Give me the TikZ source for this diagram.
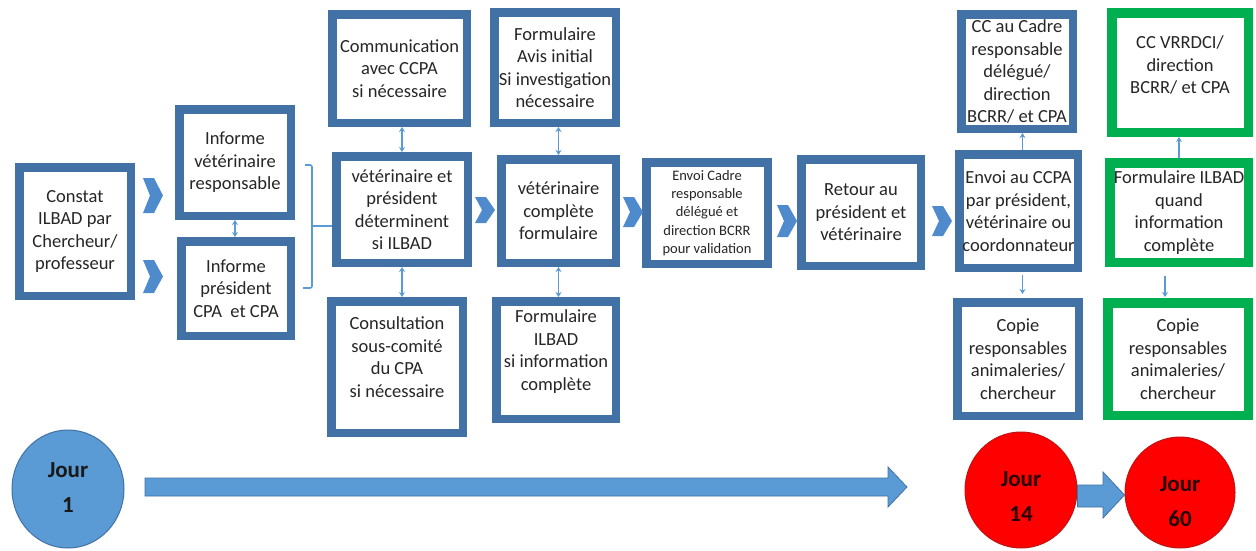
\documentclass[tikz,border=0pt]{standalone}
\usepackage{fontspec}
\setmainfont{Carlito}
\usetikzlibrary{arrows.meta,shapes.geometric}
\definecolor{boxblue}{RGB}{65,113,165}
\definecolor{boxgreen}{RGB}{0,176,80}
\definecolor{lblue}{RGB}{91,155,213}
\definecolor{chevblue}{RGB}{79,139,204}
\definecolor{txt}{RGB}{38,38,38}
\definecolor{redfill}{RGB}{255,0,0}
\definecolor{redline}{RGB}{190,20,20}
\newcommand\mychev[4]{\fill[chevblue] (#1,#2) -- (#1+11,#2) -- (#3,{(#2+#4)/2}) -- (#1+11,#4) -- (#1,#4) -- (#1+7,{(#2+#4)/2}) -- cycle;}
\newsavebox\mysbox
\newcommand\mystack[2]{\sbox\mysbox{\begin{tabular}{@{}c@{}}#2\end{tabular}}\raisebox{#1}[\ht\mysbox][\dp\mysbox]{\usebox\mysbox}}
\tikzset{
  box/.style={draw=boxblue, line width=8.5pt, fill=white, text=txt, align=center, inner sep=0pt,
    font=\fontsize{18.5}{22.5}\selectfont},
  gbox/.style={box, draw=boxgreen, line width=9.5pt},
  dbl/.style={lblue, line width=1.4pt, {Stealth[length=5pt,width=6pt]}-{Stealth[length=5pt,width=6pt]}},
  sgl/.style={lblue, line width=1.4pt, -{Stealth[length=5pt,width=6pt]}},
  brk/.style={lblue, line width=1.6pt, rounded corners=2pt},
  jour/.style={ellipse, inner sep=0pt, line width=1pt, font=\bfseries\fontsize{23}{35}\selectfont},
  bigarrow/.style={fill=lblue, draw=boxblue, line width=0.8pt}
}
\begin{document}
\begin{tikzpicture}[x=1pt,y=-1pt]
\fill[white] (0,0) rectangle (1256,550);
\useasboundingbox (0,0) rectangle (1256,550);

% boxes
\node[box, minimum width=111.5pt, minimum height=128.5pt] (constat) at (75,231.5) {Constat\\ILBAD par\\Chercheur/\\professeur};
\node[box, minimum width=111.5pt, minimum height=106.5pt] (iv) at (235,162.5) {Informe\\vétérinaire\\responsable};
\node[box, minimum width=109.5pt, minimum height=94.5pt] (ip) at (236,288.5) {Informe\\président\\CPA\ \ et CPA};
\node[box, minimum width=134.5pt, minimum height=108.5pt] (comm) at (399.5,68.5) {Communication\\avec CCPA\\si nécessaire};
\node[box, minimum width=131.5pt, minimum height=106.5pt] (vp) at (402,209.5) {vétérinaire et\\président\\déterminent\\si ILBAD};
\node[box, minimum width=131.5pt, minimum height=131.5pt] (cons) at (397,367) {\mystack{8pt}{Consultation\\sous-comité\\du CPA\\si nécessaire}};
\node[box, minimum width=121.5pt, minimum height=110.5pt] (favis) at (555,67.5) {Formulaire\\Avis initial\\Si investigation\\nécessaire};
\node[box, minimum width=114.5pt, minimum height=103.5pt] (vc) at (558.5,211) {vétérinaire\\complète\\formulaire};
\node[box, minimum width=119.5pt, minimum height=117.5pt] (filbad) at (556,360) {\mystack{8pt}{Formulaire\\ILBAD\\si information\\complète}};
\node[box, minimum width=121.5pt, minimum height=101.5pt, font=\fontsize{14.5}{18.3}\selectfont] (envoi) at (707,213) {Envoi Cadre\\responsable\\délégué et\\direction BCRR\\pour validation};
\node[box, minimum width=119.5pt, minimum height=106.5pt] (retour) at (861,212.5) {Retour au\\président et\\vétérinaire};
\node[box, minimum width=111.5pt, minimum height=114.5pt] (ccc) at (1017,71.5) {CC au Cadre\\responsable\\délégué/\\direction\\BCRR/ et CPA};
\node[box, minimum width=118.5pt, minimum height=113.5pt] (eccpa) at (1018.5,211) {Envoi au CCPA\\par président,\\vétérinaire ou\\coordonnateur};
\node[box, minimum width=121.5pt, minimum height=113.5pt] (cop1) at (1018,359) {Copie\\responsables\\animaleries/\\chercheur};
\node[gbox, minimum width=136.5pt, minimum height=119.5pt] (ccv) at (1180,72.5) {\mystack{6pt}{CC VRRDCI/\\direction\\BCRR/ et CPA}};
\node[gbox, minimum width=138.5pt, minimum height=99.5pt] (fq) at (1179,212.5) {Formulaire ILBAD\\quand\\information\\complète};
\node[gbox, minimum width=140.5pt, minimum height=112.5pt] (cop2) at (1178,359) {Copie\\responsables\\animaleries/\\chercheur};

% chevrons
\mychev{143}{178}{163}{213}
\mychev{143}{260}{163}{293}
\mychev{475}{197}{495}{223}
\mychev{623}{197}{643}{227}
\mychev{777}{205}{797}{237}
\mychev{932}{206}{952}{236}

% bracket
\coordinate (bt) at (305,165);
\coordinate (bb) at (303,288);
\coordinate (bm) at (312,226);
\draw[brk] (bt) -- (312,165) -- (312,288) -- (bb);
\draw[brk] (bm) -- (bm -| vp.west);

% small connectors
\draw[dbl] (iv.south) -- (iv.south |- ip.north);
\draw[dbl] (vp.north) -- (vp.north |- comm.south);
\draw[dbl] (vp.south) -- (vp.south |- cons.north);
\draw[dbl] (vc.north) -- (vc.north |- favis.south);
\draw[dbl] (vc.south) -- (vc.south |- filbad.north);
\draw[sgl] ([xshift=4pt]eccpa.north) -- ([xshift=4pt]eccpa.north |- ccc.south);
\draw[sgl, shorten <=3pt, shorten >=4pt] ([xshift=4pt]eccpa.south) -- ([xshift=4pt]eccpa.south |- cop1.north);
\draw[sgl] (fq.north) -- (fq.north |- ccv.south);
\draw[sgl, shorten <=9pt, shorten >=1pt] ([xshift=-14pt]fq.south) -- ([xshift=-14pt]fq.south |- cop2.north);

% timeline
\node[jour, fill=lblue, draw=boxblue, minimum width=112pt, minimum height=118pt, text=black!90] (j1) at (68,489) {\mystack{1pt}{\renewcommand\arraystretch{1.4}Jour\\1}};
\node[jour, fill=redfill, draw=redline, minimum width=112pt, minimum height=116pt, text=black!85!red] (j14) at (1021,490) {\mystack{-7pt}{\renewcommand\arraystretch{1.4}Jour\\14}};
\node[jour, fill=redfill, draw=redline, minimum width=110pt, minimum height=111pt, text=black!85!red] (j60) at (1180,492.5) {\mystack{-9pt}{\renewcommand\arraystretch{1.4}Jour\\60}};
\filldraw[bigarrow] (145,478) -- (888,478) -- (888,467) -- (907,487) -- (888,507) -- (888,496) -- (145,496) -- cycle;
\filldraw[bigarrow] (j14.east |- 0,485) -- (1103,485) -- (1103,472) -- (j60.west |- 0,495) -- (1103,518) -- (1103,507) -- (j14.east |- 0,507) -- cycle;
\end{tikzpicture}
\end{document}
